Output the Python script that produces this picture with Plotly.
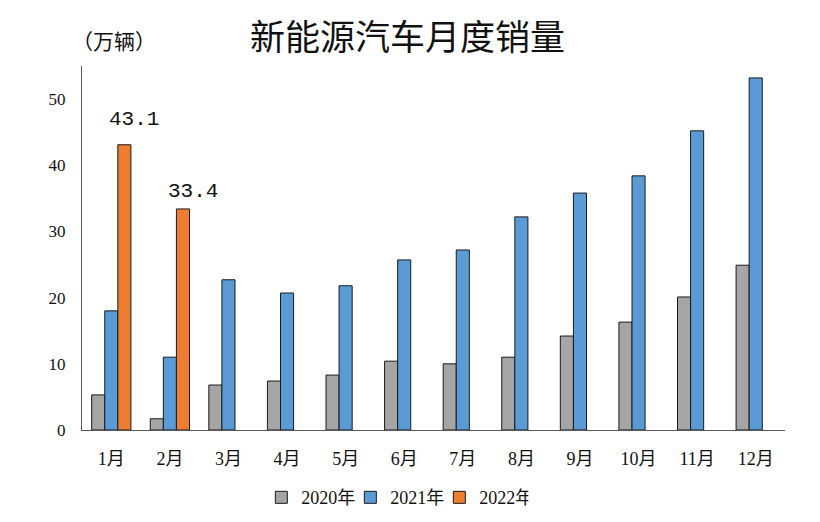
import plotly.graph_objects as go

months = ["1月", "2月", "3月", "4月", "5月", "6月", "7月", "8月", "9月", "10月", "11月", "12月"]
sales_2020 = [5.3, 1.7, 6.8, 7.4, 8.3, 10.4, 10.0, 11.0, 14.2, 16.3, 20.1, 24.9]
sales_2021 = [18.0, 11.0, 22.7, 20.7, 21.8, 25.7, 27.2, 32.2, 35.8, 38.4, 45.2, 53.2]
sales_2022 = [43.1, 33.4]
label_2022 = ["43.1", "33.4"]
series_names = ["2020年", "2021年", "2022年"]
colors = ["#A5A5A5", "#5B9BD5", "#ED7D31"]

FONT = "Liberation Serif, Noto Sans CJK SC, serif"

fig = go.Figure()
for name, vals, xs, col in [
    (series_names[0], sales_2020, months, colors[0]),
    (series_names[1], sales_2021, months, colors[1]),
    (series_names[2], sales_2022, months[:2], colors[2]),
]:
    fig.add_trace(go.Bar(
        x=xs, y=vals, name=name,
        marker=dict(color=col, line=dict(color="#1a1a1a", width=1)),
        hoverinfo="x+y+name",
    ))

# Data labels for 2022
for m, v, t, ys in zip(months[:2], sales_2022, label_2022, [12, 4]):
    fig.add_annotation(
        x=m, y=v, text=t, showarrow=False, xref="x", yref="y",
        xanchor="center", yanchor="bottom", xshift=23, yshift=ys,
        font=dict(family="Liberation Mono, monospace", size=21, color="#111"),
    )

fig.update_layout(
    width=820, height=522,
    margin=dict(l=82, r=35, t=66, b=92, autoexpand=False),
    paper_bgcolor="white", plot_bgcolor="white",
    barmode="group", bargap=0.33, bargroupgap=0,
    title=dict(text="新能源汽车月度销量", x=0.497, xanchor="center", y=0.927, yanchor="middle",
               font=dict(family="Noto Sans CJK SC", size=35, color="#111")),
    font=dict(family=FONT, color="#111"),
    showlegend=True,
    legend=dict(orientation="h", x=0.445, xanchor="center", y=-0.135, yanchor="top",
                font=dict(family=FONT, size=18, color="#111"),
                itemwidth=30, tracegroupgap=0,
                entrywidth=44, entrywidthmode="pixels"),
    xaxis=dict(
        categoryorder="array", categoryarray=months,
        showline=True, linecolor="#595959", linewidth=1,
        ticks="", ticklabelstandoff=12, automargin=False,
        tickfont=dict(family=FONT, size=18, color="#111"),
        showgrid=False, zeroline=False,
    ),
    yaxis=dict(
        range=[0, 55], tickvals=[0, 10, 20, 30, 40, 50],
        showline=True, linecolor="#595959", linewidth=1,
        ticks="", ticklabelstandoff=12, automargin=False,
        tickfont=dict(family=FONT, size=17, color="#111"),
        showgrid=False, zeroline=False,
    ),
)

fig.add_annotation(
    text="（万辆）", xref="paper", yref="paper", x=0.045, y=1.071,
    xanchor="center", yanchor="middle", showarrow=False,
    font=dict(family="Noto Sans CJK SC", size=21, color="#111"),
)

fig.write_html("out.html")
